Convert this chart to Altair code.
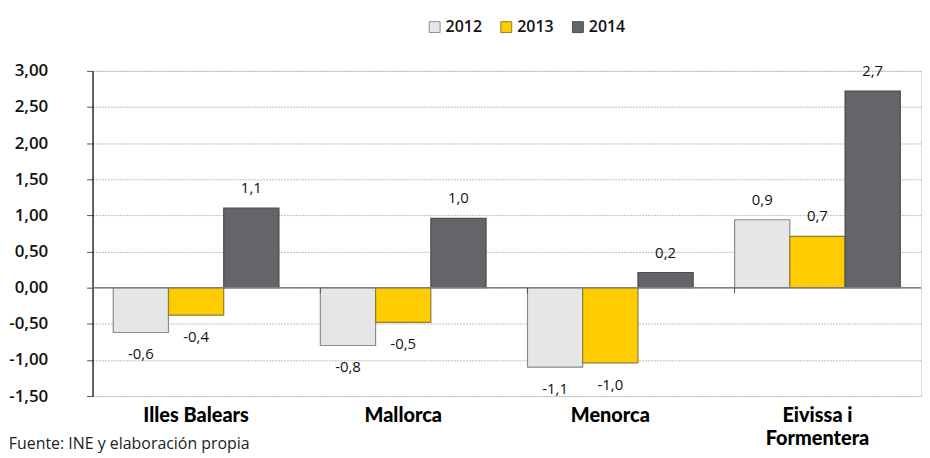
import altair as alt
import pandas as pd

categories = ["Illes Balears", "Mallorca", "Menorca", "Eivissa i Formentera"]
years = ["2012", "2013", "2014"]
v2012 = [-0.62, -0.80, -1.10, 0.94]
v2013 = [-0.38, -0.48, -1.04, 0.71]
v2014 = [1.10, 0.96, 0.21, 2.72]
fills = ["#E6E6E6", "#FFCC00", "#636569"]
strokes = ["#8C8C8C", "#8F7D32", "#4D4D4D"]
y_ticks = [-1.5, -1.0, -0.5, 0.0, 0.5, 1.0, 1.5, 2.0, 2.5, 3.0]
footer = "Fuente: INE y elaboración propia"

rows = []
for yr, vals in zip(years, [v2012, v2013, v2014]):
    for c, v in zip(categories, vals):
        rows.append({"cat": c, "year": yr, "value": v})
df = pd.DataFrame(rows)

FONT = "Open Sans"
W, H = 833, 327

xaxis = alt.Axis(
    title=None, domain=False, ticks=False, labelAngle=0,
    labelFont="Lato", labelFontSize=20, labelFontWeight=900, labelColor="#000000",
    labelPadding=10, labelLineHeight=23, labelBaseline="top",
    labelExpr="datum.label == 'Eivissa i Formentera' ? ['Eivissa i', 'Formentera'] : datum.label",
)
xscale = alt.Scale(domain=categories, paddingInner=0.2, paddingOuter=0.1)


def xenc(**kw):
    return alt.X("cat:N", sort=categories, scale=xscale, axis=xaxis, **kw)


yscale = alt.Scale(domain=[-1.5, 3.0], nice=False, zero=False)
yaxis = alt.Axis(
    title=None, values=y_ticks, format=".2f", labelOverlap=False,
    grid=True, gridColor="#BDBDBD", gridDash=[2, 1], gridWidth=1,
    domainColor="#000000", domainWidth=1.2, tickColor="#555555", tickSize=6,
    labelFont=FONT, labelFontSize=17, labelFontWeight=600, labelColor="#111111",
    labelPadding=39,
)
color_scale = alt.Scale(domain=years, range=fills)
stroke_scale = alt.Scale(domain=years, range=strokes)

base = alt.Chart(df)

bars = base.mark_bar(strokeWidth=1.2).encode(
    x=xenc(),
    xOffset=alt.XOffset("year:N", sort=years, scale=alt.Scale(paddingInner=0, paddingOuter=0)),
    y=alt.Y("value:Q", scale=yscale, axis=yaxis),
    y2=alt.Y2("zero:Q"),
    color=alt.Color(
        "year:N", scale=color_scale,
        legend=alt.Legend(
            title=None, orient="none", direction="horizontal", legendX=336, legendY=-52,
            symbolType="square", symbolSize=120, symbolStrokeWidth=1,
            labelFont=FONT, labelFontSize=16, labelFontWeight=600, labelColor="#111111",
            columnPadding=16, labelOffset=3,
        ),
    ),
    stroke=alt.Stroke("year:N", scale=stroke_scale, legend=None),
).transform_calculate(zero="0")

zero = alt.Chart(pd.DataFrame({"z": [0.0]})).mark_rule(color="#7F7F7F", strokeWidth=1.5).encode(
    y=alt.Y("z:Q", scale=yscale, axis=yaxis)
)

tickdf = pd.DataFrame({"cat": categories[1:], "t0": [0.0] * 3, "t1": [-0.08] * 3})
ticks = alt.Chart(tickdf).mark_rule(color="#555555", strokeWidth=1).encode(
    x=xenc(bandPosition=0),
    y=alt.Y("t0:Q", scale=yscale, axis=yaxis),
    y2="t1:Q",
)

lab_common = dict(font=FONT, fontSize=15, fontWeight=500, color="#111111")
pos_labels = base.transform_filter("datum.value >= 0").mark_text(dy=-20, **lab_common).encode(
    x=xenc(),
    xOffset=alt.XOffset("year:N", sort=years),
    y=alt.Y("value:Q", scale=yscale, axis=yaxis),
    text=alt.Text("value:Q", format=".1f"),
)
neg_labels = base.transform_filter("datum.value < 0").mark_text(dy=22, **lab_common).encode(
    x=xenc(),
    xOffset=alt.XOffset("year:N", sort=years),
    y=alt.Y("value:Q", scale=yscale, axis=yaxis),
    text=alt.Text("value:Q", format=".1f"),
)

chart = alt.layer(bars, zero, ticks, pos_labels, neg_labels).properties(
    width=W, height=H,
    padding={"left": 0, "top": 10, "right": 0, "bottom": 0},
    title=alt.TitleParams(
        footer, orient="bottom", anchor="start", frame="bounds", offset=-13,
        font=FONT, fontSize=16, fontWeight=400, color="#222222",
    ),
).configure_view(stroke=None).configure(
    locale={"number": {"decimal": ",", "thousands": ".", "grouping": [3], "currency": ["", " €"], "minus": "-"}}
)

chart.save("out.html", embed_options={"renderer": "svg", "actions": False})
